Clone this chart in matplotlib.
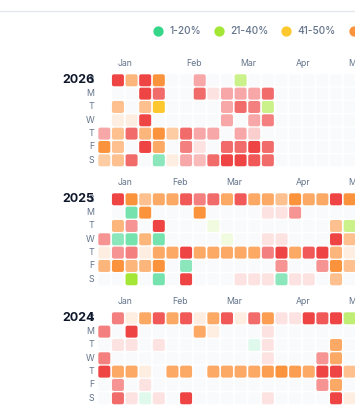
import datetime as dt
import matplotlib
matplotlib.use("Agg")
import matplotlib.pyplot as plt
from matplotlib.patches import FancyBboxPatch
from matplotlib.colors import to_rgb

plt.rcParams['font.family'] = ['Inter', 'DejaVu Sans']

# ---------------- data ----------------
years = [2026, 2025, 2024]
day_labels = ["S", "M", "T", "W", "T", "F", "S"]
month_names = ["Jan", "Feb", "Mar", "Apr", "May"]
legend_labels = ["1-20%", "21-40%", "41-50%", "51-70%", "71-100%"]
legend_keys = ["g", "l", "y", "o", "r"]
family_colors = {"g": "#36d68a", "l": "#a3e635", "y": "#fcc82e",
                 "o": "#fb923c", "r": "#ef4444"}
empty_color = "#f8fafc"

# token = colour family + intensity (1..9); "." = no activity; "-" = outside year
cells_2026 = [
    "- r9 o6 r9 o9 . . r4 . . l5 . . . . . . . .",
    "- . . r9 r7 . . r7 r1 r4 r4 r4 r7 . . . . . .",
    "- o5 . o5 y9 . . . . r4 r7 r6 l5 . . . . . .",
    "- o1 o1 r9 . . . . . r4 . r4 r6 . . . . . .",
    "r4 o5 r7 o6 o9 o4 r7 r4 r4 . r4 r2 . . . . . . .",
    "o9 o5 . r9 o7 . r6 r1 . r7 r7 r9 r7 . . . . . .",
    "o4 o5 r7 . g5 o1 r4 r3 r7 r9 r9 r8 r7 . . . . . .",
]
cells_2025 = [
    "- r9 o9 o5 o7 o7 r8 r6 r7 o7 r8 o7 o7 o5 o9 o7 o7 r9 o9",
    "- . g6 o9 . . . o9 . . . . r1 r1 r5 . . . .",
    "- o6 r5 . r9 . . . l1 . . . . . . . . o5 l5",
    "r5 g5 g6 o6 g6 . . . . l1 . . r1 r1 . . . r9 o5",
    "o1 r5 r6 o1 o7 o7 r9 o7 o7 o7 o7 o7 r6 r9 o7 r8 r9 o6 o1",
    "o6 o9 o6 o6 o9 . g5 . . . . . . r5 . . r5 o9 o5",
    ". . l9 . g6 . r9 . . . r1 r1 r1 g5 r1 r1 . o5 .",
]
cells_2024 = [
    "- r6 o1 o7 r8 o7 r8 o1 o7 r8 o1 r7 o8 r1 r1 r9 r8 r9 l6",
    "r6 . r9 . . . . o7 o1 . . . r1 . . . . . .",
    ". r1 r1 . r1 . . . . . . g1 r1 . . . . o7 .",
    "r6 . . . . . . . . . . . r1 . . . r5 o7 .",
    "r9 o7 o7 o1 . o7 o7 . o7 o7 o7 o7 o8 o9 o8 o7 r9 r9 o5",
    ". r5 . r1 . . . . . . . . . . . . r5 o7 .",
    ". r7 r1 g1 r1 . r9 . . . . . r1 . . . . r9 o1",
]
cells_by_year = {2026: cells_2026, 2025: cells_2025, 2024: cells_2024}

# ---------------- helpers ----------------
def cell_color(token):
    if token == ".":
        return empty_color
    base = to_rgb(family_colors[token[0]])
    a = 0.05 + 0.95 * int(token[1]) / 9.0
    return tuple(b * a + (1 - a) for b in base)

W, H = 355, 420
PX, PY = 13.63, 13.33          # cell pitch in pixels
COL0 = 104.3                   # pixel x of first column centre
TEXT_GRAY = "#64748b"

fig = plt.figure(figsize=(W / 100, H / 100), dpi=100)
fig.patch.set_facecolor("white")

for i, year in enumerate(years):
    y0 = 80.3 + 119 * i
    top_px, bot_px = y0 - 25, y0 + 90
    ax = fig.add_axes([0, 1 - bot_px / H, 1, (bot_px - top_px) / H])
    ax.set_xlim(-COL0 / PX, (W - COL0) / PX)
    ax.set_ylim((bot_px - y0) / PY, (top_px - y0) / PY)
    ax.axis("off")

    rows = [r.split() for r in cells_by_year[year]]
    for r, row in enumerate(rows):
        for c, tok in enumerate(row):
            if tok == "-":
                continue
            ax.add_patch(FancyBboxPatch((c - 0.44, r - 0.45), 0.88, 0.9,
                                        boxstyle="round,pad=0,rounding_size=0.15",
                                        fc=cell_color(tok), ec="none"))
    for r, lab in enumerate(day_labels):
        ax.text(-0.72, r, lab, ha="right", va="center", fontsize=6.4,
                color=TEXT_GRAY)
    ax.text(-0.72, 0, str(year), ha="right", va="center", fontsize=9,
            fontweight="bold", color="#0f172a")

    jan1 = dt.date(year, 1, 1)
    start = jan1 - dt.timedelta(days=(jan1.weekday() + 1) % 7)
    for m, name in enumerate(month_names, start=1):
        col = (dt.date(year, m, 1) - start).days // 7
        ax.text(col + 1.55, -1.27, name, ha="center", va="center",
                fontsize=6.3, color=TEXT_GRAY)

# ---------------- legend + top rule ----------------
axl = fig.add_axes([0, 1 - 45 / H, 1, 45 / H])
axl.set_xlim(0, W)
axl.set_ylim(45, 0)
axl.axis("off")
axl.axhline(11, color="#e5e7eb", lw=1)
renderer = fig.canvas.get_renderer()
x = 158.0
for lab, key in zip(legend_labels, legend_keys):
    axl.scatter([x], [31], s=55, color=family_colors[key], linewidths=0,
                clip_on=False)
    t = axl.text(x + 11.3, 31, lab, ha="left", va="center", fontsize=7.3,
                 fontweight=500, color=TEXT_GRAY)
    w = t.get_window_extent(renderer).width
    x = x + 11.3 + w + 17.7

fig.savefig("out.png", dpi=100, facecolor="white")
